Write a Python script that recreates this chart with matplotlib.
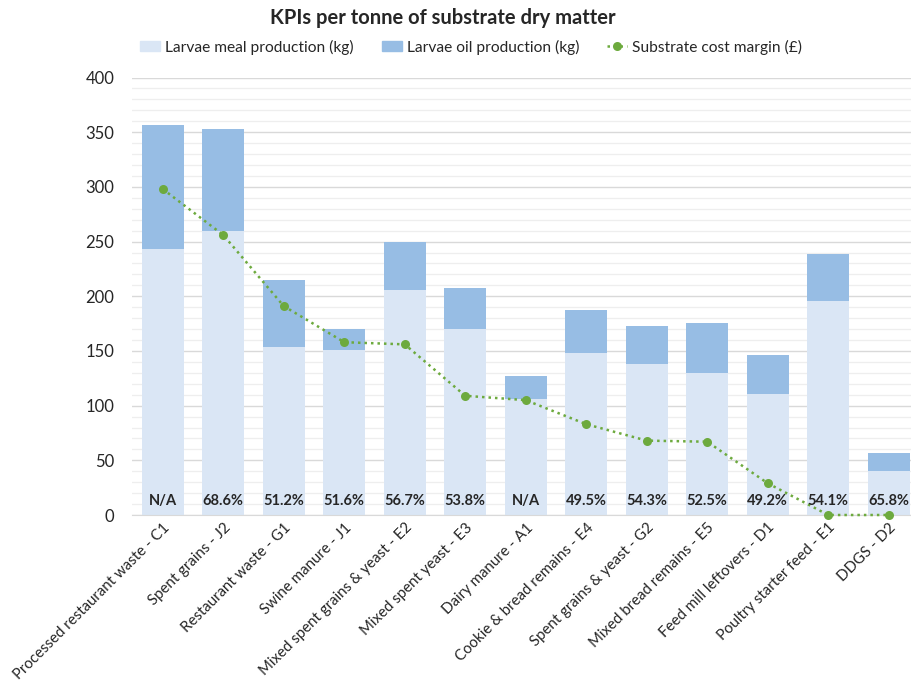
import matplotlib
matplotlib.use("Agg")
import matplotlib.pyplot as plt
from matplotlib.ticker import MultipleLocator
from matplotlib.lines import Line2D
from matplotlib.patches import Patch

plt.rcParams['font.family'] = ['Lato', 'DejaVu Sans']

categories = [
    "Processed restaurant waste - C1", "Spent grains - J2", "Restaurant waste - G1",
    "Swine manure - J1", "Mixed spent grains & yeast - E2", "Mixed spent yeast - E3",
    "Dairy manure - A1", "Cookie & bread remains - E4", "Spent grains & yeast - G2",
    "Mixed bread remains - E5", "Feed mill leftovers - D1", "Poultry starter feed - E1",
    "DDGS - D2",
]
meal_kg = [243, 260, 154, 151, 206, 170, 106, 148, 138, 130, 111, 196, 40]
oil_kg = [114, 93, 61, 19, 44, 38, 21, 39, 35, 46, 35, 43, 17]
cost_margin = [298, 256, 191, 158, 156, 109, 105, 83, 68, 67, 29, 0, 0]
pct_labels = ["N/A", "68.6%", "51.2%", "51.6%", "56.7%", "53.8%", "N/A",
              "49.5%", "54.3%", "52.5%", "49.2%", "54.1%", "65.8%"]

meal_color = "#DAE6F5"
oil_color = "#97BDE4"
line_color = "#6DAA3E"
text_color = "#262626"

fig = plt.figure(figsize=(9.12, 6.84), dpi=100)
ax = fig.add_axes([132.5 / 912, 169 / 684, 786.5 / 912, 437.5 / 684])

x = list(range(len(categories)))
width = 0.69
ax.bar(x, meal_kg, width=width, color=meal_color, zorder=2)
ax.bar(x, oil_kg, width=width, bottom=meal_kg, color=oil_color, zorder=2)
ax.plot(x, cost_margin, linestyle=(0, (1, 1.6)), linewidth=1.8, color=line_color,
        marker="o", markersize=6.5, markeredgewidth=0, zorder=4, clip_on=False)

for xi, lab in zip(x, pct_labels):
    ax.text(xi, 12.5, lab, ha="center", va="center", fontsize=10.5,
            fontweight="bold", color=text_color, zorder=5)

ax.set_xlim(-0.5, len(categories) - 0.5)
ax.set_ylim(0, 400)
ax.yaxis.set_major_locator(MultipleLocator(50))
ax.yaxis.set_minor_locator(MultipleLocator(10))
ax.grid(axis="y", which="major", color="#D9D9D9", linewidth=1.0, zorder=0)
ax.grid(axis="y", which="minor", color="#EEEEEE", linewidth=0.9, zorder=0)
ax.set_axisbelow(True)

for side in ("top", "right", "left"):
    ax.spines[side].set_visible(False)
ax.spines["bottom"].set_color("#D9D9D9")
ax.tick_params(axis="both", which="both", length=0)
ax.tick_params(axis="y", labelsize=12, labelcolor=text_color, pad=13)

ax.set_xticks(x)
ax.set_xticklabels(categories, rotation=45, ha="right", rotation_mode="anchor",
                   fontsize=10.8, color=text_color)
ax.tick_params(axis="x", pad=4)

fig.text(443 / 912, 1 - 18 / 684, "KPIs per tonne of substrate dry matter", ha="center",
         va="center", fontsize=14.5, fontweight="bold", color=text_color)

handles = [
    Patch(color=meal_color, label="Larvae meal production (kg)"),
    Patch(color=oil_color, label="Larvae oil production (kg)"),
    Line2D([0], [0], color=line_color, linestyle=(0, (1, 1.6)), linewidth=1.8,
           marker="o", markersize=6.5, markeredgewidth=0, label="Substrate cost margin (£)"),
]
fig.legend(handles=handles, loc="center", bbox_to_anchor=(471 / 912, 1 - 47 / 684), ncol=3,
           frameon=False, fontsize=11.2, handlelength=1.3, handleheight=0.6,
           handletextpad=0.3, columnspacing=1.8, labelcolor=text_color)

fig.savefig("out.png", dpi=100, facecolor="white")
